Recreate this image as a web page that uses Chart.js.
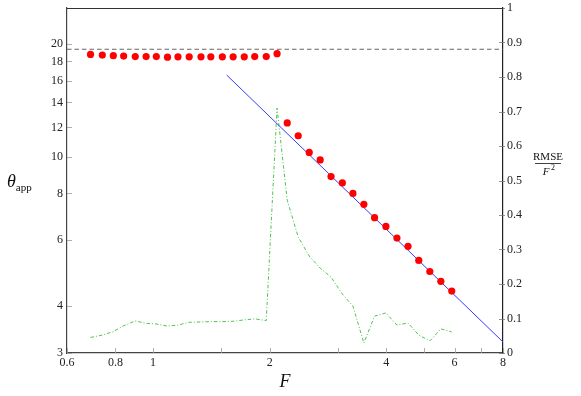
<!DOCTYPE html>
<html>
<head>
<meta charset="utf-8">
<script src="https://cdn.jsdelivr.net/npm/chart.js@4.4.0/dist/chart.umd.min.js"></script>
<style>
  body { margin: 0; background: #fff; }
</style>
</head>
<body>
<canvas id="chart" width="581" height="396"></canvas>
<script>
// measured points (F, theta_app) and RMSE/F^2 at the same F
const fValues = [0.69, 0.74, 0.79, 0.84, 0.90, 0.96, 1.02, 1.09, 1.16, 1.24, 1.33, 1.41, 1.51, 1.61, 1.72, 1.83, 1.96, 2.09,
  2.22, 2.37, 2.53, 2.70, 2.88, 3.08, 3.28, 3.50, 3.73, 3.99, 4.26, 4.55, 4.85, 5.18, 5.53, 5.90];
const thetaValues = [18.8, 18.72, 18.65, 18.6, 18.55, 18.55, 18.55, 18.48, 18.52, 18.52, 18.52, 18.52, 18.52, 18.52, 18.52, 18.55, 18.55, 18.88,
  12.34, 11.40, 10.29, 9.83, 8.87, 8.53, 8.00, 7.48, 6.89, 6.53, 6.08, 5.78, 5.30, 4.95, 4.66, 4.39];
const rmseValues = [0.045, 0.052, 0.062, 0.079, 0.093, 0.086, 0.084, 0.078, 0.081, 0.089, 0.090, 0.091, 0.091, 0.092, 0.096, 0.099, 0.094, 0.710,
  0.443, 0.336, 0.281, 0.246, 0.220, 0.171, 0.136, 0.029, 0.107, 0.116, 0.081, 0.087, 0.052, 0.035, 0.070, 0.061];
// fitted line theta ~ 1/F and the reference level
const fitF = [1.55, 8];
const fitTheta = [16.55, 3.21];
const refF = [0.6, 8];
const refTheta = [19.4, 19.4];

const xTicks = [0.6, 0.8, 1, 1.5, 2, 3, 4, 5, 6, 7, 8];
const xLabels = [0.6, 0.8, 1, 2, 4, 6, 8];
const thetaTicks = [3, 4, 6, 8, 10, 12, 14, 16, 18, 20];
const rmseTicks = [0, 0.1, 0.2, 0.3, 0.4, 0.5, 0.6, 0.7, 0.8, 0.9, 1];

const serif = '"Liberation Serif", "DejaVu Serif", serif';
const toPts = (xs, ys) => xs.map((x, i) => ({ x: x, y: ys[i] }));

const decor = {
  id: 'decor',
  beforeDatasetsDraw(chart) {
    const { ctx, chartArea: a, scales } = chart;
    ctx.save();
    ctx.lineWidth = 0.8;
    ctx.strokeStyle = '#999';
    ctx.beginPath();
    xTicks.forEach(v => {
      const px = Math.round(scales.x.getPixelForValue(v)) + 0.5;
      ctx.moveTo(px, a.bottom); ctx.lineTo(px, a.bottom - 5);
    });
    thetaTicks.forEach(v => {
      const py = Math.round(scales.y.getPixelForValue(v)) + 0.5;
      ctx.moveTo(a.left, py); ctx.lineTo(a.left + 5, py);
    });
    ctx.stroke();
    ctx.strokeStyle = '#777';
    ctx.beginPath();
    rmseTicks.forEach(v => {
      const py = Math.round(scales.y2.getPixelForValue(v)) + 0.5;
      ctx.moveTo(a.right - 4, py); ctx.lineTo(a.right + 2, py);
    });
    ctx.stroke();
    // top frame line
    ctx.strokeStyle = '#333';
    ctx.lineWidth = 1;
    ctx.beginPath();
    ctx.moveTo(a.left, a.top + 0.5); ctx.lineTo(a.right, a.top + 0.5);
    ctx.stroke();
    ctx.restore();
  },
  afterDraw(chart) {
    const { ctx } = chart;
    ctx.save();
    ctx.fillStyle = '#111';
    ctx.textBaseline = 'alphabetic';
    // theta_app
    ctx.font = 'italic 18px ' + serif;
    ctx.textAlign = 'left';
    ctx.fillText('θ', 7, 187);
    const w = ctx.measureText('θ').width;
    ctx.font = '11px ' + serif;
    ctx.fillText('app', 7 + w, 191);
    // RMSE / F^2
    ctx.textAlign = 'center';
    ctx.font = '11px ' + serif;
    ctx.fillText('RMSE', 548, 160);
    ctx.fillRect(535, 163, 26, 0.8);
    ctx.font = 'italic 11px ' + serif;
    ctx.fillText('F', 546, 175);
    ctx.font = '8px ' + serif;
    ctx.fillText('2', 553, 170);
    // F
    ctx.font = 'italic 18px ' + serif;
    ctx.fillText('F', 285, 387);
    ctx.restore();
  }
};

const noPadY = (w) => (s) => { s.width = w; s.paddingTop = 0; s.paddingBottom = 0; };

new Chart(document.getElementById('chart'), {
  type: 'scatter',
  data: {
    datasets: [
      {
        data: toPts(fValues, thetaValues),
        yAxisID: 'y',
        backgroundColor: '#ff0000',
        borderWidth: 0,
        pointRadius: 3.6,
      },
      {
        data: toPts(fitF, fitTheta),
        yAxisID: 'y',
        showLine: true,
        borderColor: '#3a3aff',
        borderWidth: 1,
        pointRadius: 0,
      },
      {
        data: toPts(refF, refTheta),
        yAxisID: 'y',
        showLine: true,
        borderColor: '#555',
        borderWidth: 0.9,
        borderDash: [4.5, 3],
        pointRadius: 0,
      },
      {
        data: toPts(fValues, rmseValues),
        yAxisID: 'y2',
        showLine: true,
        borderColor: '#3dbb3d',
        borderWidth: 0.9,
        borderDash: [3.5, 2, 1, 2],
        pointRadius: 0,
      },
    ],
  },
  options: {
    responsive: false,
    animation: false,
    devicePixelRatio: 1,
    layout: { padding: { top: 8, left: 0, right: 0, bottom: 0 } },
    plugins: { legend: { display: false }, tooltip: { enabled: false } },
    scales: {
      x: {
        type: 'logarithmic',
        min: 0.6,
        max: 8,
        afterBuildTicks: (s) => { s.ticks = xTicks.map(v => ({ value: v })); },
        afterFit: (s) => { s.height = 43; s.paddingLeft = 0; s.paddingRight = 0; },
        grid: { display: false, drawTicks: false },
        border: { display: true, color: '#444', width: 1.2 },
        ticks: {
          autoSkip: false, maxRotation: 0, padding: 3,
          color: '#222', font: { family: serif, size: 12 },
          callback: (v) => xLabels.includes(v) ? String(v) : '',
        },
      },
      y: {
        type: 'logarithmic',
        position: 'left',
        min: 3,
        max: 25,
        afterBuildTicks: (s) => { s.ticks = thetaTicks.map(v => ({ value: v })); },
        afterFit: noPadY(67),
        grid: { display: false, drawTicks: false },
        border: { display: true, color: '#444', width: 1.2 },
        ticks: {
          autoSkip: false, padding: 4,
          color: '#222', font: { family: serif, size: 12 },
          callback: (v) => String(v),
        },
      },
      y2: {
        type: 'linear',
        position: 'right',
        min: 0,
        max: 1,
        afterBuildTicks: (s) => { s.ticks = rmseTicks.map(v => ({ value: v })); },
        afterFit: noPadY(78),
        grid: { display: false, drawTicks: false },
        border: { display: true, color: '#222', width: 1.2 },
        ticks: {
          autoSkip: false, padding: 4,
          color: '#222', font: { family: serif, size: 12 },
          callback: (v) => String(v),
        },
      },
    },
  },
  plugins: [decor],
});
</script>
</body>
</html>
